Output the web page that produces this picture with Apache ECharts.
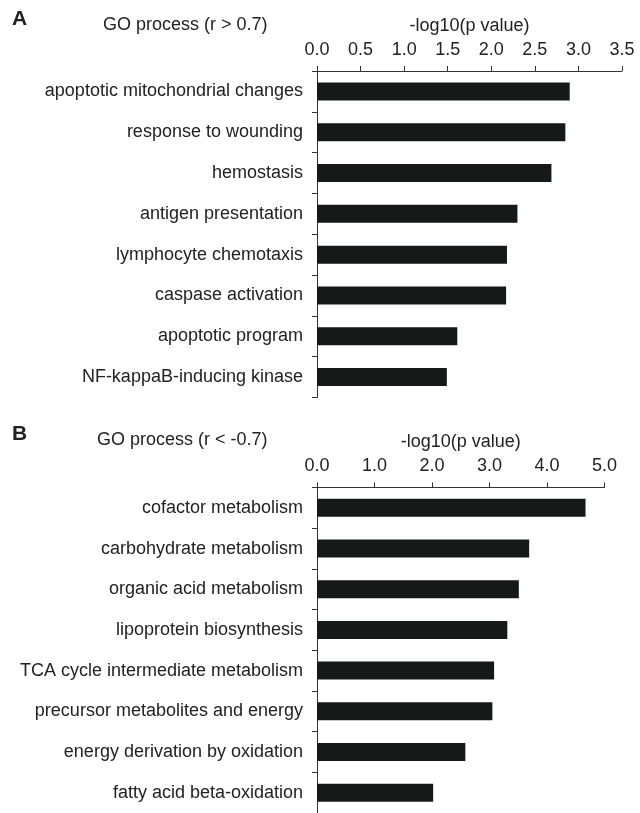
<!DOCTYPE html>
<html>
<head>
<meta charset="utf-8">
<script src="https://cdn.jsdelivr.net/npm/echarts@6/dist/echarts.min.js"></script>
<style>html,body{margin:0;padding:0;background:#fff}#c{width:640px;height:813px}</style>
</head>
<body>
<div id="c"></div>
<script>
const categoriesA = ["apoptotic mitochondrial changes","response to wounding","hemostasis","antigen presentation","lymphocyte chemotaxis","caspase activation","apoptotic program","NF-kappaB-inducing kinase"];
const valuesA = [2.90, 2.85, 2.69, 2.30, 2.18, 2.17, 1.61, 1.49];
const categoriesB = ["cofactor metabolism","carbohydrate metabolism","organic acid metabolism","lipoprotein biosynthesis","TCA cycle intermediate metabolism","precursor metabolites and energy","energy derivation by oxidation","fatty acid beta-oxidation"];
const valuesB = [4.67, 3.69, 3.51, 3.31, 3.08, 3.05, 2.58, 2.02];
const titleA = "GO process (r > 0.7)";
const titleB = "GO process (r < -0.7)";
const axisTitle = "-log10(p value)";

const FONT = "Liberation Sans, Arial, Helvetica, sans-serif";
const TXT = "#222";
const FS = 18;
const chart = echarts.init(document.getElementById('c'), null, {renderer:'canvas'});

function xAx(grid, max, interval){
  return {
    type:'value', gridIndex:grid, position:'top', min:0, max:max, interval:interval,
    name:axisTitle, nameLocation:'middle', nameGap:36,
    nameTextStyle:{fontFamily:FONT, fontSize:FS, color:TXT},
    axisLine:{show:true, lineStyle:{color:'#333', width:1}},
    axisTick:{show:true, length:5, inside:false, lineStyle:{color:'#333'}},
    axisLabel:{fontFamily:FONT, fontSize:FS, color:TXT, margin:12, formatter:v=>v.toFixed(1)},
    splitLine:{show:false}
  };
}
function yAx(grid, cats){
  return {
    type:'category', gridIndex:grid, data:cats, inverse:true,
    axisLine:{show:true, lineStyle:{color:'#333', width:1}},
    axisTick:{show:true, length:5, lineStyle:{color:'#333'}},
    axisLabel:{fontFamily:FONT, fontSize:FS, color:TXT, margin:14}
  };
}
chart.setOption({
  animation:false,
  backgroundColor:'#fff',
  title:[
    {text:'A', left:7, top:4, textStyle:{fontFamily:FONT, fontSize:21, fontWeight:'bold', color:TXT}},
    {text:titleA, left:98, top:11.5, textStyle:{fontFamily:FONT, fontSize:FS, fontWeight:'normal', color:TXT}},
    {text:'B', left:7, top:419, textStyle:{fontFamily:FONT, fontSize:21, fontWeight:'bold', color:TXT}},
    {text:titleB, left:92, top:426.5, textStyle:{fontFamily:FONT, fontSize:FS, fontWeight:'normal', color:TXT}}
  ],
  grid:[
    {left:317, width:305, top:71, height:326.5},
    {left:317, width:287.5, top:487.5, height:326.5}
  ],
  xAxis:[xAx(0,3.5,0.5), xAx(1,5,1)],
  yAxis:[yAx(0,categoriesA), yAx(1,categoriesB)],
  series:[
    {type:'bar', xAxisIndex:0, yAxisIndex:0, data:valuesA, barWidth:18, itemStyle:{color:'#171919'}},
    {type:'bar', xAxisIndex:1, yAxisIndex:1, data:valuesB, barWidth:18, itemStyle:{color:'#171919'}}
  ]
});
</script>
</body>
</html>
